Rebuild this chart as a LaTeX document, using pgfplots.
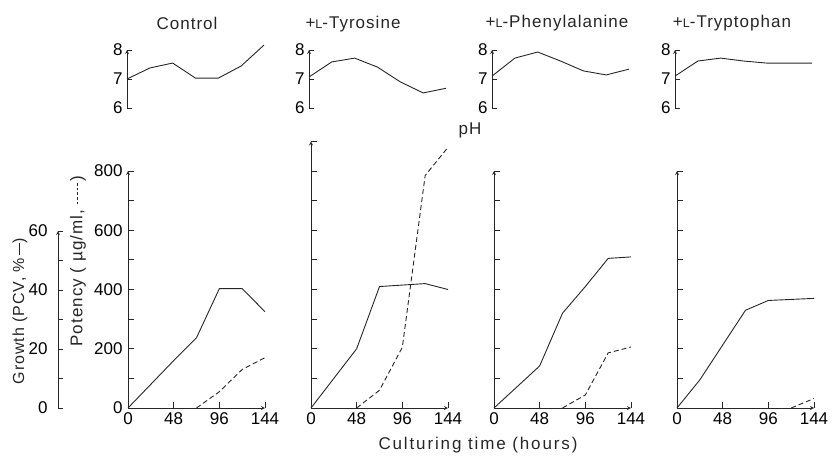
\documentclass[border=0pt]{standalone}
\usepackage{fontspec}
\setmainfont[LetterSpace=6]{Liberation Sans}
\newfontfamily\tickfont{Liberation Sans}
\usepackage{pgfplots}
\pgfplotsset{compat=1.18}

\newcommand{\Ls}{{\fontsize{12.5}{13}\selectfont L}}
\newcommand{\solidsample}{\rule[0.3em]{12pt}{0.7pt}}
\newcommand{\dsh}{\rule[0.3em]{2.6pt}{0.7pt}\hspace{2pt}}
\newcommand{\dashsample}{\dsh\dsh\dsh\dsh\dsh}

\pgfplotsset{
  base/.style={scale only axis, width=137pt, xmin=0, xmax=144, clip=false,
    axis line style={-, black!85, line width=0.8pt},
    every tick/.style={black!85, line width=0.8pt},
    ticklabel style={font=\fontsize{17}{17}\tickfont},
    /pgf/number format/assume math mode=true},
  mainax/.style={base, at={(#1pt,48pt)}, anchor=south west, axis lines=left,
    tick align=inside, xtick align=inside, ytick align=inside,
    ymin=0, xtick={0,48,96,144}, xticklabels={0,48,96,144},
    major tick length=6pt,
    xticklabel style={yshift=-1pt}},
  phax/.style={base, at={(#1pt,348pt)}, anchor=south west, height=58pt,
    axis lines=left, hide x axis, tick align=inside, ytick align=inside,
    ymin=6, ymax=8, ytick={6,7,8},
    yticklabels={6,7,8}, major tick length=5pt,
    yticklabel style={xshift=-1pt}},
  gax/.style={base, at={(#1pt,48pt)}, anchor=south west, ymin=0, hide axis},
  solidl/.style={black!85, line width=0.9pt, no marks},
  dashl/.style={black!85, line width=0.9pt, no marks, dash pattern=on 5pt off 3pt},
}

\begin{document}
\begin{tikzpicture}[x=1pt,y=1pt]
\useasboundingbox (0,0) rectangle (832,456);

% ---------- Panel 1: Control ----------
\begin{axis}[phax=127]
\addplot[solidl] coordinates {(0,7.0)(24,7.38)(48,7.55)(72,7.03)(96,7.03)(120,7.45)(144,8.17)};
\end{axis}
\begin{axis}[base, at={(58pt,48pt)}, anchor=south west, width=10pt, height=177pt,
  axis lines=left, hide x axis, tick align=inside, ytick align=inside,
  ymin=0, ymax=60, ytick={0,10,...,60},
  yticklabels={0,,20,,40,,60}, major tick length=5pt,
  yticklabel style={xshift=-7pt}]
\addplot[draw=none] coordinates {(0,0)};
\end{axis}
\begin{axis}[mainax=128, height=237pt, ymax=800, ytick={0,100,...,800},
  yticklabels={0,,200,,400,,600,,800}, yticklabel style={xshift=-2pt}]
\addplot[dashl] coordinates {(72,0)(96,55)(120,130)(144,170)};
\end{axis}
\begin{axis}[gax=128, height=237pt, ymax=80]
\addplot[solidl] coordinates {(0,0)(24,8)(48,16)(72,23.7)(96,40.3)(120,40.3)(144,32.5)};
\end{axis}

% ---------- Panel 2: Tyrosine ----------
\begin{axis}[phax=309]
\addplot[solidl] coordinates {(0,7.07)(24,7.59)(48,7.72)(72,7.41)(96,6.9)(120,6.52)(144,6.68)};
\end{axis}
\begin{axis}[mainax=311, height=266.6pt, ymax=900, ytick={0,100,...,900},
  yticklabels={}]
\addplot[dashl] coordinates {(48,0)(72,60)(96,205)(120,785)(144,880)};
\end{axis}
\begin{axis}[gax=311, height=266.6pt, ymax=90]
\addplot[solidl] coordinates {(0,0)(48,20)(72,41)(120,42)(144,40)};
\end{axis}

% ---------- Panel 3: Phenylalanine ----------
\begin{axis}[phax=492]
\addplot[solidl] coordinates {(0,7.1)(24,7.72)(48,7.93)(72,7.62)(96,7.28)(120,7.14)(144,7.34)};
\end{axis}
\begin{axis}[mainax=494, height=237pt, ymax=800, ytick={0,100,...,800},
  yticklabels={}]
\addplot[dashl] coordinates {(72,0)(96,44)(120,186)(144,206)};
\end{axis}
\begin{axis}[gax=494, height=237pt, ymax=80]
\addplot[solidl] coordinates {(0,0)(48,14.2)(72,32)(96,41)(120,50.5)(144,51)};
\end{axis}

% ---------- Panel 4: Tryptophan ----------
\begin{axis}[phax=675]
\addplot[solidl] coordinates {(0,7.1)(24,7.62)(48,7.72)(72,7.62)(96,7.55)(120,7.55)(144,7.55)};
\end{axis}
\begin{axis}[mainax=677, height=237pt, ymax=800, ytick={0,100,...,800},
  yticklabels={}]
\addplot[dashl] coordinates {(120,0)(144,32)};
\end{axis}
\begin{axis}[gax=677, height=237pt, ymax=80]
\addplot[solidl] coordinates {(0,0)(24,9.5)(72,33)(96,36.3)(144,37)};
\end{axis}

% ---------- Texts ----------
\begin{scope}[every node/.style={font=\fontsize{17}{17}\selectfont, text=black!85, inner sep=0pt}]
\node[anchor=base] at (187,426) {Control};
\node[anchor=base] at (353,427) {+\Ls-Tyrosine};
\node[anchor=base] at (557,428) {+\Ls-Phenylalanine};
\node[anchor=base] at (732,428) {+\Ls-Tryptophan};
\node[anchor=base] at (478,7) {\addfontfeature{LetterSpace=11}Culturing time (hours)};
\node[anchor=base] at (470,321) {pH};
\node[rotate=90, font=\fontsize{16}{16}\selectfont] at (20,145) {Growth (PCV, \%\,\solidsample)};
\node[rotate=90] at (78,195) {Potency ( µg/ml, \dashsample)};
\end{scope}
\end{tikzpicture}
\end{document}
